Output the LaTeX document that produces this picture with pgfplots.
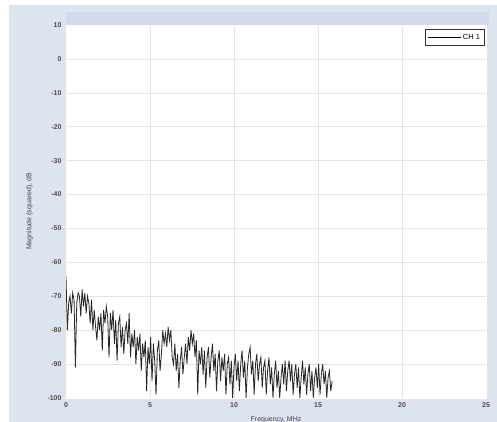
\documentclass[border=0pt]{standalone}
\usepackage{pgfplots}
\pgfplotsset{compat=1.18}
\usepackage{fontspec}
\setmainfont{Liberation Sans}
\definecolor{bgblue}{RGB}{221,228,240}
\definecolor{topband}{RGB}{210,218,236}
\definecolor{gridc}{RGB}{228,228,228}
\begin{document}
\begin{tikzpicture}
\fill[white] (0,0) rectangle (497bp,422bp);
\fill[bgblue] (9bp,0) rectangle (497bp,417bp);
\fill[topband] (66bp,397bp) rectangle (489bp,410bp);
\begin{axis}[
  at={(66bp,24bp)}, anchor=south west,
  scale only axis, width=420bp, height=373bp,
  xmin=0, xmax=25, ymin=-100, ymax=10,
  xtick={0,5,10,15,20,25},
  ytick={-100,-90,-80,-70,-60,-50,-40,-30,-20,-10,0,10},
  axis background/.style={fill=white},
  axis line style={draw=white},
  major tick length=0pt,
  grid=major,
  major grid style={gridc, line width=0.5pt},
  /pgf/number format/assume math mode=true,
  ticklabel style={font=\fontsize{7}{8}\selectfont\bfseries, text=black!70},
  yticklabel style={xshift=-1pt},
  xticklabel style={yshift=-1pt},
  xlabel={Frequency, MHz},
  ylabel={Magnitude (squared), dB},
  label style={font=\fontsize{7}{8}\selectfont, text=black!75},
  xlabel style={at={(axis description cs:0.5,-0.058)}, anchor=center},
  ylabel style={at={(axis description cs:-0.087,0.5)}, anchor=center, rotate=0},
  legend style={at={(axis description cs:0.997,0.988)}, anchor=north east,
    draw=black!80, line width=0.6pt, font=\fontsize{7.5}{9}\selectfont,
    inner sep=2.5pt, row sep=0pt},
  legend cell align=left,
  legend image code/.code={\draw[black, line width=0.6pt] (0cm,0cm) -- (1.15cm,0cm);},
]
\addplot[black!85, line width=0.8pt] table {
x y
0.00 -64
0.08 -80
0.16 -72
0.24 -70
0.32 -75
0.40 -69
0.48 -71
0.56 -91
0.64 -72
0.72 -69
0.80 -70
0.88 -76
0.96 -68
1.04 -73
1.12 -69
1.20 -75
1.28 -70
1.36 -72
1.44 -78
1.52 -71
1.60 -80
1.68 -74
1.76 -79
1.84 -83
1.92 -76
2.00 -80
2.08 -75
2.16 -86
2.24 -74
2.32 -78
2.40 -73
2.48 -76
2.56 -88
2.64 -75
2.72 -80
2.80 -74
2.88 -84
2.96 -77
3.04 -89
3.12 -78
3.20 -76
3.28 -85
3.36 -79
3.44 -87
3.52 -80
3.60 -78
3.68 -84
3.76 -75
3.84 -88
3.92 -81
4.00 -85
4.08 -80
4.16 -90
4.24 -82
4.32 -86
4.40 -81
4.48 -92
4.56 -84
4.64 -88
4.72 -83
4.80 -98
4.88 -85
4.96 -90
5.04 -82
5.12 -95
5.20 -84
5.28 -89
5.36 -99
5.44 -86
5.52 -83
5.60 -92
5.68 -87
5.76 -80
5.84 -84
5.92 -81
6.00 -85
6.08 -79
6.16 -83
6.24 -80
6.32 -88
6.40 -90
6.48 -84
6.56 -92
6.64 -87
6.72 -97
6.80 -89
6.88 -85
6.96 -93
7.04 -88
7.12 -84
7.20 -90
7.28 -82
7.36 -86
7.44 -80
7.52 -84
7.60 -81
7.68 -88
7.76 -83
7.84 -99
7.92 -86
8.00 -90
8.08 -85
8.16 -93
8.24 -86
8.32 -97
8.40 -88
8.48 -85
8.56 -94
8.64 -88
8.72 -84
8.80 -92
8.88 -87
8.96 -98
9.04 -89
9.12 -86
9.20 -95
9.28 -88
9.36 -92
9.44 -87
9.52 -99
9.60 -90
9.68 -88
9.76 -96
9.84 -89
9.92 -100
10.00 -91
10.08 -87
10.16 -95
10.24 -89
10.32 -98
10.40 -90
10.48 -86
10.56 -94
10.64 -89
10.72 -100
10.80 -91
10.88 -87
10.96 -85
11.04 -93
11.12 -89
11.20 -99
11.28 -90
11.36 -87
11.44 -95
11.52 -90
11.60 -88
11.68 -97
11.76 -91
11.84 -89
11.92 -99
12.00 -92
12.08 -88
12.16 -96
12.24 -91
12.32 -100
12.40 -93
12.48 -89
12.56 -97
12.64 -92
12.72 -100
12.80 -94
12.88 -90
12.96 -96
13.04 -89
13.12 -98
13.20 -92
13.28 -89
13.36 -95
13.44 -90
13.52 -99
13.60 -93
13.68 -90
13.76 -97
13.84 -91
13.92 -100
14.00 -94
14.08 -89
14.16 -96
14.24 -91
14.32 -99
14.40 -93
14.48 -90
14.56 -98
14.64 -92
14.72 -100
14.80 -94
14.88 -91
14.96 -97
15.04 -90
15.12 -99
15.20 -93
15.28 -90
15.36 -96
15.44 -92
15.52 -100
15.60 -94
15.68 -92
15.76 -98
15.84 -95
};
\addlegendentry{CH 1}
\end{axis}
\pgfresetboundingbox
\path[use as bounding box] (0,0) rectangle (497bp,422bp);
\end{tikzpicture}
\end{document}
